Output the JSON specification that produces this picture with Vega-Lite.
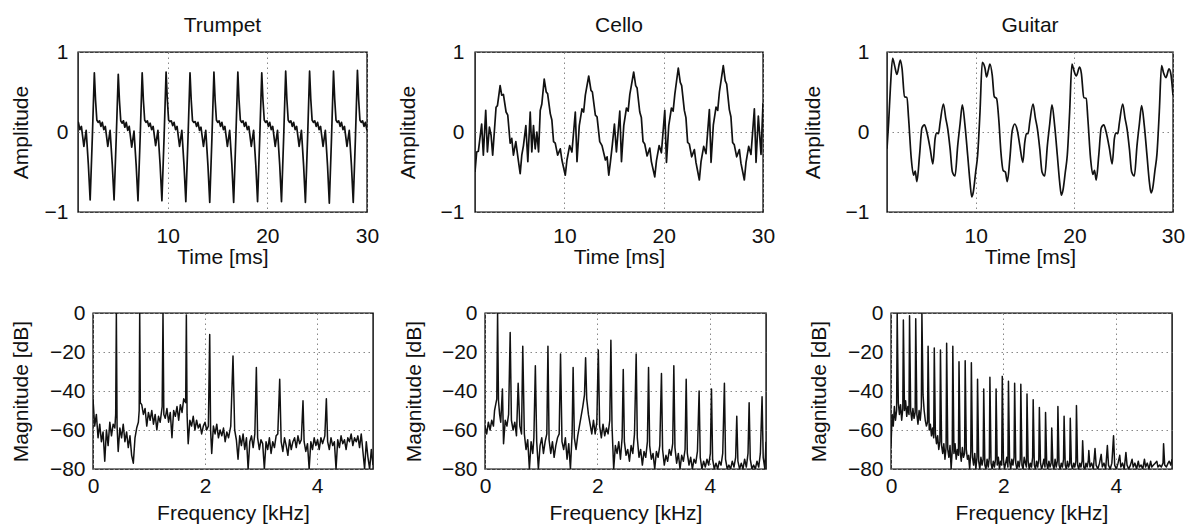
{
"$schema": "https://vega.github.io/schema/vega-lite/v6.json",
"background": "white",
"padding": {"left": 9, "top": 14, "right": 0, "bottom": 0},
"config": {
  "font": "Liberation Sans",
  "view": {"stroke": "#000", "strokeWidth": 1.4},
  "axis": {"grid": true, "gridColor": "#888", "gridDash": [1.5, 3.5], "gridWidth": 1, "domain": false, "ticks": false, "labelFontSize": 21, "titleFontSize": 21, "titleFontWeight": "normal", "labelColor": "#111", "titleColor": "#111", "labelFlush": false, "labelOverlap": false},
  "title": {"fontSize": 21, "fontWeight": "normal", "color": "#111", "offset": 5, "baseline": "alphabetic"}
},
"datasets": {
"tw": [{"x":1.0,"y":0.08},{"x":1.04,"y":0.12},{"x":1.19,"y":0.03},{"x":1.34,"y":0.07},{"x":1.59,"y":-0.18},{"x":1.82,"y":0.02},{"x":2.04,"y":-0.41},{"x":2.22,"y":-0.85},{"x":2.44,"y":-0.06},
{"x":2.64,"y":0.74},{"x":2.76,"y":0.40},{"x":2.89,"y":0.15},{"x":3.02,"y":0.12},{"x":3.16,"y":0.14},{"x":3.3,"y":0.07},{"x":3.44,"y":0.12},{"x":3.59,"y":0.03},{"x":3.74,"y":0.07},{"x":3.99,"y":-0.18},{"x":4.22,"y":0.02},{"x":4.44,"y":-0.41},{"x":4.62,"y":-0.85},{"x":4.84,"y":-0.06},
{"x":5.04,"y":0.72},{"x":5.16,"y":0.39},{"x":5.29,"y":0.14},{"x":5.42,"y":0.11},{"x":5.56,"y":0.14},{"x":5.7,"y":0.06},{"x":5.84,"y":0.12},{"x":5.99,"y":0.02},{"x":6.14,"y":0.07},{"x":6.39,"y":-0.19},{"x":6.62,"y":0.01},{"x":6.84,"y":-0.42},{"x":7.02,"y":-0.86},{"x":7.24,"y":-0.06},
{"x":7.44,"y":0.74},{"x":7.56,"y":0.40},{"x":7.69,"y":0.15},{"x":7.82,"y":0.12},{"x":7.96,"y":0.14},{"x":8.1,"y":0.07},{"x":8.24,"y":0.11},{"x":8.39,"y":0.03},{"x":8.54,"y":0.07},{"x":8.79,"y":-0.17},{"x":9.02,"y":0.02},{"x":9.24,"y":-0.41},{"x":9.42,"y":-0.86},{"x":9.64,"y":-0.06},
{"x":9.84,"y":0.75},{"x":9.96,"y":0.41},{"x":10.09,"y":0.15},{"x":10.22,"y":0.13},{"x":10.36,"y":0.14},{"x":10.5,"y":0.08},{"x":10.64,"y":0.12},{"x":10.79,"y":0.03},{"x":10.94,"y":0.07},{"x":11.19,"y":-0.18},{"x":11.42,"y":0.02},{"x":11.64,"y":-0.42},{"x":11.82,"y":-0.87},{"x":12.04,"y":-0.07},
{"x":12.24,"y":0.74},{"x":12.36,"y":0.40},{"x":12.49,"y":0.14},{"x":12.62,"y":0.12},{"x":12.76,"y":0.13},{"x":12.9,"y":0.07},{"x":13.04,"y":0.12},{"x":13.19,"y":0.02},{"x":13.34,"y":0.06},{"x":13.59,"y":-0.18},{"x":13.82,"y":0.02},{"x":14.04,"y":-0.42},{"x":14.22,"y":-0.88},{"x":14.44,"y":-0.07},
{"x":14.64,"y":0.75},{"x":14.76,"y":0.40},{"x":14.89,"y":0.15},{"x":15.02,"y":0.12},{"x":15.16,"y":0.14},{"x":15.3,"y":0.07},{"x":15.44,"y":0.12},{"x":15.59,"y":0.03},{"x":15.74,"y":0.07},{"x":15.99,"y":-0.18},{"x":16.22,"y":0.02},{"x":16.44,"y":-0.41},{"x":16.62,"y":-0.88},{"x":16.84,"y":-0.06},
{"x":17.04,"y":0.75},{"x":17.16,"y":0.40},{"x":17.29,"y":0.15},{"x":17.42,"y":0.12},{"x":17.56,"y":0.14},{"x":17.7,"y":0.07},{"x":17.84,"y":0.12},{"x":17.99,"y":0.03},{"x":18.14,"y":0.07},{"x":18.39,"y":-0.18},{"x":18.62,"y":0.02},{"x":18.84,"y":-0.41},{"x":19.02,"y":-0.87},{"x":19.24,"y":-0.06},
{"x":19.44,"y":0.74},{"x":19.56,"y":0.40},{"x":19.69,"y":0.15},{"x":19.82,"y":0.12},{"x":19.96,"y":0.14},{"x":20.1,"y":0.07},{"x":20.24,"y":0.12},{"x":20.39,"y":0.03},{"x":20.54,"y":0.07},{"x":20.79,"y":-0.18},{"x":21.02,"y":0.02},{"x":21.24,"y":-0.41},{"x":21.42,"y":-0.87},{"x":21.64,"y":-0.06},
{"x":21.84,"y":0.76},{"x":21.96,"y":0.41},{"x":22.09,"y":0.15},{"x":22.22,"y":0.12},{"x":22.36,"y":0.14},{"x":22.5,"y":0.07},{"x":22.64,"y":0.12},{"x":22.79,"y":0.03},{"x":22.94,"y":0.07},{"x":23.19,"y":-0.18},{"x":23.42,"y":0.02},{"x":23.64,"y":-0.42},{"x":23.82,"y":-0.88},{"x":24.04,"y":-0.07},
{"x":24.24,"y":0.76},{"x":24.36,"y":0.41},{"x":24.49,"y":0.15},{"x":24.62,"y":0.12},{"x":24.76,"y":0.14},{"x":24.9,"y":0.07},{"x":25.04,"y":0.12},{"x":25.19,"y":0.03},{"x":25.34,"y":0.07},{"x":25.59,"y":-0.18},{"x":25.82,"y":0.02},{"x":26.04,"y":-0.42},{"x":26.22,"y":-0.89},{"x":26.44,"y":-0.07},
{"x":26.64,"y":0.76},{"x":26.76,"y":0.41},{"x":26.89,"y":0.15},{"x":27.02,"y":0.12},{"x":27.16,"y":0.14},{"x":27.3,"y":0.07},{"x":27.44,"y":0.12},{"x":27.59,"y":0.03},{"x":27.74,"y":0.07},{"x":27.99,"y":-0.18},{"x":28.22,"y":0.02},{"x":28.44,"y":-0.42},{"x":28.62,"y":-0.88},{"x":28.84,"y":-0.07},
{"x":29.04,"y":0.77},{"x":29.16,"y":0.41},{"x":29.29,"y":0.15},{"x":29.42,"y":0.12},{"x":29.56,"y":0.14},{"x":29.7,"y":0.07},{"x":29.84,"y":0.12},{"x":30.0,"y":0.02}],
"cw": [{"x":1.0,"y":-0.5},{"x":1.17,"y":-0.25},{"x":1.34,"y":-0.24},{"x":1.67,"y":0.1},{"x":1.84,"y":-0.29},{"x":2.08,"y":0.27},{"x":2.25,"y":-0.25},{"x":2.45,"y":0.06},{"x":2.62,"y":-0.04},{"x":2.78,"y":-0.29},{"x":3.12,"y":0.31},{"x":3.26,"y":0.33},{"x":3.53,"y":0.58},{"x":3.69,"y":0.46},{"x":3.86,"y":0.47},{"x":4.13,"y":0.25},{"x":4.3,"y":0.21},{"x":4.54,"y":-0.14},{"x":4.7,"y":-0.08},{"x":4.87,"y":-0.29},{"x":5.11,"y":-0.12},{"x":5.38,"y":-0.37},{"x":5.55,"y":-0.52},{"x":5.71,"y":-0.29},{"x":5.88,"y":-0.17},{"x":6.12,"y":0.08},{"x":6.32,"y":-0.37},{"x":6.56,"y":0.25},{"x":6.72,"y":-0.25},{"x":6.89,"y":0.08},{"x":7.06,"y":-0.21},{"x":7.23,"y":0.0},{"x":7.4,"y":-0.25},{"x":7.57,"y":0.27},{"x":7.73,"y":0.35},
{"x":7.97,"y":0.66},{"x":8.17,"y":0.5},{"x":8.31,"y":0.48},{"x":8.58,"y":0.23},{"x":8.74,"y":0.15},{"x":8.91,"y":-0.12},{"x":9.08,"y":-0.14},{"x":9.32,"y":-0.29},{"x":9.59,"y":-0.21},{"x":9.75,"y":-0.35},{"x":10.09,"y":-0.54},{"x":10.26,"y":-0.35},{"x":10.53,"y":-0.17},{"x":10.76,"y":-0.25},{"x":11.1,"y":0.25},{"x":11.27,"y":-0.37},{"x":11.5,"y":0.08},{"x":11.77,"y":0.29},{"x":11.94,"y":0.25},{"x":12.11,"y":0.46},
{"x":12.45,"y":0.7},{"x":12.68,"y":0.52},{"x":12.82,"y":0.5},{"x":13.12,"y":0.21},{"x":13.29,"y":0.19},{"x":13.56,"y":-0.12},{"x":13.79,"y":-0.17},{"x":14.13,"y":-0.35},{"x":14.3,"y":-0.31},{"x":14.47,"y":-0.54},{"x":14.64,"y":-0.37},{"x":14.82,"y":-0.17},{"x":15.04,"y":0.1},{"x":15.24,"y":-0.25},{"x":15.58,"y":0.26},{"x":15.75,"y":-0.37},{"x":15.98,"y":0.08},{"x":16.25,"y":0.3},{"x":16.42,"y":0.26},{"x":16.59,"y":0.47},
{"x":16.98,"y":0.75},{"x":17.18,"y":0.58},{"x":17.32,"y":0.55},{"x":17.59,"y":0.25},{"x":17.75,"y":0.18},{"x":17.92,"y":-0.12},{"x":18.09,"y":-0.15},{"x":18.33,"y":-0.3},{"x":18.6,"y":-0.2},{"x":18.76,"y":-0.37},{"x":19.1,"y":-0.56},{"x":19.27,"y":-0.36},{"x":19.54,"y":-0.17},{"x":19.77,"y":-0.26},{"x":20.11,"y":0.27},{"x":20.28,"y":-0.38},{"x":20.51,"y":0.08},{"x":20.78,"y":0.3},{"x":20.95,"y":0.26},{"x":21.12,"y":0.47},
{"x":21.47,"y":0.8},{"x":21.67,"y":0.62},{"x":21.81,"y":0.58},{"x":22.08,"y":0.27},{"x":22.24,"y":0.18},{"x":22.41,"y":-0.13},{"x":22.58,"y":-0.15},{"x":22.82,"y":-0.31},{"x":23.09,"y":-0.22},{"x":23.25,"y":-0.38},{"x":23.59,"y":-0.6},{"x":23.76,"y":-0.37},{"x":24.03,"y":-0.18},{"x":24.26,"y":-0.27},{"x":24.6,"y":0.28},{"x":24.77,"y":-0.38},{"x":25.0,"y":0.09},{"x":25.27,"y":0.31},{"x":25.44,"y":0.27},{"x":25.61,"y":0.5},
{"x":26.0,"y":0.83},{"x":26.2,"y":0.64},{"x":26.34,"y":0.6},{"x":26.61,"y":0.28},{"x":26.77,"y":0.19},{"x":26.94,"y":-0.13},{"x":27.11,"y":-0.16},{"x":27.35,"y":-0.31},{"x":27.62,"y":-0.22},{"x":27.78,"y":-0.39},{"x":28.12,"y":-0.6},{"x":28.29,"y":-0.38},{"x":28.56,"y":-0.18},{"x":28.79,"y":-0.28},{"x":29.13,"y":0.29},{"x":29.3,"y":-0.38},{"x":29.53,"y":0.2},{"x":29.8,"y":-0.28},{"x":30.0,"y":0.36}],
"gw": [{"x":1.0,"y":-0.21},{"x":1.17,"y":0.13},{"x":1.34,"y":0.54},{"x":1.57,"y":0.92},{"x":1.77,"y":0.83},{"x":2.01,"y":0.72},{"x":2.35,"y":0.9},{"x":2.52,"y":0.8},{"x":2.78,"y":0.44},{"x":3.02,"y":0.43},{"x":3.19,"y":0.17},{"x":3.46,"y":-0.33},{"x":3.69,"y":-0.54},{"x":3.86,"y":-0.49},{"x":4.03,"y":-0.62},{"x":4.3,"y":-0.29},{"x":4.54,"y":0.05},{"x":4.8,"y":0.09},{"x":5.04,"y":0.0},{"x":5.38,"y":-0.21},{"x":5.65,"y":-0.4},{"x":5.88,"y":-0.08},{"x":6.05,"y":-0.01},{"x":6.22,"y":-0.02},{"x":6.39,"y":0.12},{"x":6.72,"y":0.35},{"x":6.96,"y":0.17},{"x":7.16,"y":0.04},{"x":7.4,"y":-0.21},{"x":7.63,"y":-0.5},{"x":7.9,"y":-0.55},{"x":8.17,"y":-0.17},{"x":8.41,"y":0.1},{"x":8.64,"y":0.34},{"x":8.91,"y":0.08},{"x":9.18,"y":-0.29},{"x":9.42,"y":-0.63},{"x":9.59,"y":-0.81},{"x":9.75,"y":-0.75},{"x":9.99,"y":-0.5},{"x":10.19,"y":-0.29},{"x":10.43,"y":0.25},
{"x":10.66,"y":0.87},{"x":10.93,"y":0.8},{"x":11.1,"y":0.69},{"x":11.27,"y":0.77},{"x":11.44,"y":0.85},{"x":11.67,"y":0.71},{"x":11.88,"y":0.44},{"x":12.11,"y":0.42},{"x":12.35,"y":0.13},{"x":12.55,"y":-0.25},{"x":12.78,"y":-0.48},{"x":13.0,"y":-0.5},{"x":13.2,"y":-0.62},{"x":13.46,"y":-0.33},{"x":13.69,"y":0.01},{"x":13.96,"y":0.1},{"x":14.23,"y":0.01},{"x":14.47,"y":-0.17},{"x":14.77,"y":-0.38},{"x":14.97,"y":-0.13},{"x":15.14,"y":-0.02},{"x":15.31,"y":-0.02},{"x":15.48,"y":0.13},{"x":15.81,"y":0.35},{"x":16.05,"y":0.17},{"x":16.25,"y":0.04},{"x":16.49,"y":-0.21},{"x":16.72,"y":-0.5},{"x":16.99,"y":-0.55},{"x":17.26,"y":-0.17},{"x":17.5,"y":0.1},{"x":17.73,"y":0.34},{"x":18.0,"y":0.08},{"x":18.27,"y":-0.29},{"x":18.51,"y":-0.63},{"x":18.68,"y":-0.79},{"x":18.84,"y":-0.73},{"x":19.08,"y":-0.5},{"x":19.28,"y":-0.29},{"x":19.52,"y":0.25},
{"x":19.75,"y":0.85},{"x":19.95,"y":0.77},{"x":20.19,"y":0.7},{"x":20.53,"y":0.81},{"x":20.7,"y":0.74},{"x":20.96,"y":0.43},{"x":21.2,"y":0.42},{"x":21.37,"y":0.16},{"x":21.64,"y":-0.33},{"x":21.87,"y":-0.53},{"x":22.04,"y":-0.48},{"x":22.21,"y":-0.6},{"x":22.48,"y":-0.28},{"x":22.72,"y":0.05},{"x":22.98,"y":0.09},{"x":23.22,"y":0.0},{"x":23.56,"y":-0.21},{"x":23.83,"y":-0.4},{"x":24.06,"y":-0.08},{"x":24.23,"y":-0.01},{"x":24.4,"y":-0.02},{"x":24.57,"y":0.12},{"x":24.9,"y":0.35},{"x":25.14,"y":0.17},{"x":25.34,"y":0.04},{"x":25.58,"y":-0.21},{"x":25.81,"y":-0.5},{"x":26.08,"y":-0.55},{"x":26.35,"y":-0.17},{"x":26.59,"y":0.1},{"x":26.82,"y":0.33},{"x":27.09,"y":0.08},{"x":27.36,"y":-0.29},{"x":27.6,"y":-0.62},{"x":27.77,"y":-0.76},{"x":27.93,"y":-0.71},{"x":28.17,"y":-0.48},{"x":28.37,"y":-0.28},{"x":28.61,"y":0.25},
{"x":28.84,"y":0.83},{"x":29.04,"y":0.74},{"x":29.28,"y":0.68},{"x":29.6,"y":0.79},{"x":29.79,"y":0.72},{"x":30.0,"y":0.46}],
"ts": [{"x":0,"y":-44},{"x":0.03,"y":-58},{"x":0.06,"y":-52},{"x":0.09,"y":-64},{"x":0.12,"y":-57},{"x":0.15,"y":-66},{"x":0.18,"y":-61},{"x":0.21,"y":-76},{"x":0.24,"y":-60},{"x":0.27,"y":-68},{"x":0.3,"y":-56},{"x":0.33,"y":-63},{"x":0.36,"y":-57},{"x":0.39,"y":-59},{"x":0.405,"y":-52},{"x":0.417,"y":0},{"x":0.43,"y":-58},{"x":0.45,"y":-71},{"x":0.48,"y":-59},{"x":0.51,"y":-64},{"x":0.54,"y":-57},{"x":0.57,"y":-66},{"x":0.6,"y":-61},{"x":0.63,"y":-69},{"x":0.66,"y":-63},{"x":0.69,"y":-73},{"x":0.72,"y":-77},{"x":0.75,"y":-64},{"x":0.78,"y":-59},{"x":0.81,"y":-56},{"x":0.825,"y":-50},{"x":0.834,"y":0},{"x":0.845,"y":-46},{"x":0.87,"y":-47},{"x":0.9,"y":-52},{"x":0.93,"y":-49},{"x":0.96,"y":-58},{"x":0.99,"y":-51},{"x":1.02,"y":-55},{"x":1.05,"y":-50},{"x":1.08,"y":-57},{"x":1.11,"y":-52},{"x":1.14,"y":-60},{"x":1.17,"y":-53},{"x":1.2,"y":-56},{"x":1.235,"y":-48},{"x":1.25,"y":0},{"x":1.265,"y":-52},{"x":1.29,"y":-54},{"x":1.32,"y":-49},{"x":1.35,"y":-56},{"x":1.38,"y":-51},{"x":1.41,"y":-64},{"x":1.44,"y":-50},{"x":1.47,"y":-53},{"x":1.5,"y":-48},{"x":1.53,"y":-55},{"x":1.56,"y":-47},{"x":1.59,"y":-51},{"x":1.62,"y":-44},{"x":1.655,"y":-46},{"x":1.667,"y":-1},{"x":1.68,"y":-52},{"x":1.7,"y":-67},{"x":1.73,"y":-55},{"x":1.76,"y":-58},{"x":1.79,"y":-53},{"x":1.82,"y":-60},{"x":1.85,"y":-55},{"x":1.88,"y":-59},{"x":1.91,"y":-57},{"x":1.94,"y":-62},{"x":1.97,"y":-58},{"x":2.0,"y":-56},{"x":2.03,"y":-60},{"x":2.06,"y":-58},{"x":2.084,"y":-11},{"x":2.1,"y":-60},{"x":2.12,"y":-72},{"x":2.15,"y":-58},{"x":2.18,"y":-62},{"x":2.21,"y":-57},{"x":2.24,"y":-64},{"x":2.27,"y":-60},{"x":2.3,"y":-63},{"x":2.33,"y":-59},{"x":2.36,"y":-66},{"x":2.39,"y":-61},{"x":2.42,"y":-64},{"x":2.46,"y":-58},{"x":2.5,"y":-22},{"x":2.53,"y":-60},{"x":2.56,"y":-65},{"x":2.59,"y":-75},{"x":2.62,"y":-63},{"x":2.65,"y":-68},{"x":2.68,"y":-62},{"x":2.71,"y":-70},{"x":2.74,"y":-64},{"x":2.77,"y":-80},{"x":2.8,"y":-66},{"x":2.83,"y":-63},{"x":2.86,"y":-69},{"x":2.89,"y":-62},{"x":2.917,"y":-28},{"x":2.94,"y":-64},{"x":2.97,"y":-70},{"x":3.0,"y":-65},{"x":3.03,"y":-67},{"x":3.06,"y":-80},{"x":3.09,"y":-66},{"x":3.12,"y":-70},{"x":3.15,"y":-64},{"x":3.18,"y":-72},{"x":3.21,"y":-66},{"x":3.24,"y":-69},{"x":3.27,"y":-63},{"x":3.3,"y":-62},{"x":3.334,"y":-34},{"x":3.36,"y":-66},{"x":3.39,"y":-71},{"x":3.42,"y":-64},{"x":3.45,"y":-68},{"x":3.48,"y":-73},{"x":3.51,"y":-65},{"x":3.54,"y":-70},{"x":3.57,"y":-66},{"x":3.6,"y":-64},{"x":3.63,"y":-69},{"x":3.66,"y":-63},{"x":3.69,"y":-67},{"x":3.72,"y":-65},{"x":3.75,"y":-45},{"x":3.77,"y":-66},{"x":3.8,"y":-71},{"x":3.83,"y":-67},{"x":3.86,"y":-80},{"x":3.89,"y":-66},{"x":3.92,"y":-70},{"x":3.95,"y":-64},{"x":3.98,"y":-68},{"x":4.01,"y":-65},{"x":4.04,"y":-70},{"x":4.07,"y":-64},{"x":4.1,"y":-67},{"x":4.14,"y":-63},{"x":4.167,"y":-44},{"x":4.19,"y":-66},{"x":4.22,"y":-70},{"x":4.25,"y":-64},{"x":4.28,"y":-68},{"x":4.31,"y":-66},{"x":4.34,"y":-80},{"x":4.37,"y":-65},{"x":4.4,"y":-69},{"x":4.43,"y":-63},{"x":4.46,"y":-67},{"x":4.49,"y":-65},{"x":4.52,"y":-70},{"x":4.55,"y":-64},{"x":4.58,"y":-66},{"x":4.61,"y":-62},{"x":4.64,"y":-68},{"x":4.67,"y":-64},{"x":4.7,"y":-66},{"x":4.73,"y":-63},{"x":4.76,"y":-69},{"x":4.79,"y":-62},{"x":4.82,"y":-71},{"x":4.85,"y":-80},{"x":4.88,"y":-66},{"x":4.91,"y":-74},{"x":4.94,"y":-80},{"x":4.97,"y":-70},{"x":5.0,"y":-78}],
"cs": [{"x":0,"y":-58},{"x":0.03,"y":-62},{"x":0.06,"y":-56},{"x":0.09,"y":-60},{"x":0.12,"y":-55},{"x":0.15,"y":-58},{"x":0.17,"y":-50},{"x":0.19,"y":-47},{"x":0.21,"y":-44},{"x":0.224,"y":0},{"x":0.24,"y":-45},{"x":0.26,"y":-52},{"x":0.28,"y":-56},{"x":0.31,"y":-39},{"x":0.33,"y":-67},{"x":0.36,"y":-55},{"x":0.39,"y":-58},{"x":0.42,"y":-52},{"x":0.448,"y":-10},{"x":0.47,"y":-55},{"x":0.5,"y":-60},{"x":0.53,"y":-56},{"x":0.56,"y":-63},{"x":0.59,"y":-36},{"x":0.62,"y":-58},{"x":0.65,"y":-62},{"x":0.672,"y":-17},{"x":0.7,"y":-62},{"x":0.73,"y":-70},{"x":0.76,"y":-65},{"x":0.79,"y":-80},{"x":0.82,"y":-66},{"x":0.85,"y":-72},{"x":0.87,"y":-64},{"x":0.896,"y":-27},{"x":0.92,"y":-66},{"x":0.95,"y":-80},{"x":0.98,"y":-68},{"x":1.01,"y":-64},{"x":1.04,"y":-72},{"x":1.07,"y":-66},{"x":1.1,"y":-62},{"x":1.12,"y":-17},{"x":1.14,"y":-65},{"x":1.17,"y":-72},{"x":1.2,"y":-66},{"x":1.23,"y":-74},{"x":1.26,"y":-68},{"x":1.29,"y":-64},{"x":1.32,"y":-62},{"x":1.344,"y":-21},{"x":1.37,"y":-66},{"x":1.4,"y":-70},{"x":1.43,"y":-64},{"x":1.46,"y":-75},{"x":1.49,"y":-67},{"x":1.52,"y":-80},{"x":1.55,"y":-62},{"x":1.568,"y":-28},{"x":1.59,"y":-64},{"x":1.62,"y":-70},{"x":1.65,"y":-63},{"x":1.68,"y":-58},{"x":1.71,"y":-53},{"x":1.74,"y":-48},{"x":1.77,"y":-42},{"x":1.79,"y":-23},{"x":1.81,"y":-44},{"x":1.84,"y":-52},{"x":1.87,"y":-57},{"x":1.9,"y":-62},{"x":1.93,"y":-55},{"x":1.96,"y":-62},{"x":1.99,"y":-56},{"x":2.016,"y":-19},{"x":2.04,"y":-58},{"x":2.07,"y":-64},{"x":2.1,"y":-57},{"x":2.13,"y":-63},{"x":2.16,"y":-59},{"x":2.19,"y":-62},{"x":2.22,"y":-55},{"x":2.24,"y":-14},{"x":2.26,"y":-58},{"x":2.29,"y":-80},{"x":2.32,"y":-68},{"x":2.35,"y":-72},{"x":2.38,"y":-66},{"x":2.41,"y":-75},{"x":2.44,"y":-64},{"x":2.46,"y":-29},{"x":2.48,"y":-66},{"x":2.51,"y":-73},{"x":2.54,"y":-70},{"x":2.57,"y":-76},{"x":2.6,"y":-68},{"x":2.63,"y":-72},{"x":2.66,"y":-62},{"x":2.69,"y":-21},{"x":2.71,"y":-64},{"x":2.74,"y":-74},{"x":2.77,"y":-70},{"x":2.8,"y":-78},{"x":2.83,"y":-71},{"x":2.86,"y":-74},{"x":2.89,"y":-66},{"x":2.91,"y":-28},{"x":2.93,"y":-68},{"x":2.96,"y":-75},{"x":2.99,"y":-72},{"x":3.02,"y":-80},{"x":3.05,"y":-71},{"x":3.08,"y":-74},{"x":3.11,"y":-68},{"x":3.14,"y":-31},{"x":3.16,"y":-70},{"x":3.19,"y":-78},{"x":3.22,"y":-73},{"x":3.25,"y":-76},{"x":3.28,"y":-70},{"x":3.31,"y":-73},{"x":3.34,"y":-67},{"x":3.36,"y":-27},{"x":3.38,"y":-69},{"x":3.41,"y":-77},{"x":3.44,"y":-72},{"x":3.47,"y":-80},{"x":3.5,"y":-73},{"x":3.53,"y":-76},{"x":3.56,"y":-70},{"x":3.58,"y":-34},{"x":3.6,"y":-72},{"x":3.63,"y":-78},{"x":3.66,"y":-74},{"x":3.69,"y":-80},{"x":3.72,"y":-75},{"x":3.75,"y":-77},{"x":3.78,"y":-71},{"x":3.81,"y":-40},{"x":3.83,"y":-74},{"x":3.86,"y":-80},{"x":3.89,"y":-76},{"x":3.92,"y":-79},{"x":3.95,"y":-75},{"x":3.98,"y":-78},{"x":4.01,"y":-72},{"x":4.03,"y":-39},{"x":4.05,"y":-75},{"x":4.08,"y":-80},{"x":4.11,"y":-77},{"x":4.14,"y":-80},{"x":4.17,"y":-76},{"x":4.2,"y":-78},{"x":4.23,"y":-72},{"x":4.26,"y":-36},{"x":4.28,"y":-75},{"x":4.31,"y":-80},{"x":4.34,"y":-78},{"x":4.37,"y":-80},{"x":4.4,"y":-76},{"x":4.43,"y":-79},{"x":4.46,"y":-74},{"x":4.48,"y":-53},{"x":4.5,"y":-76},{"x":4.53,"y":-80},{"x":4.56,"y":-77},{"x":4.59,"y":-80},{"x":4.62,"y":-75},{"x":4.65,"y":-79},{"x":4.68,"y":-72},{"x":4.7,"y":-46},{"x":4.72,"y":-75},{"x":4.75,"y":-80},{"x":4.78,"y":-78},{"x":4.81,"y":-80},{"x":4.84,"y":-76},{"x":4.87,"y":-79},{"x":4.9,"y":-72},{"x":4.93,"y":-43},{"x":4.95,"y":-74},{"x":4.98,"y":-80},{"x":5.0,"y":-66}],
"gs": [{"x":0,"y":-68},{"x":0.02,"y":-52},{"x":0.04,"y":-58},{"x":0.06,"y":-48},{"x":0.08,"y":-55},{"x":0.1,"y":-50},{"x":0.11,"y":0},{"x":0.13,"y":-46},{"x":0.15,"y":-52},{"x":0.17,"y":-47},{"x":0.19,"y":-55},{"x":0.21,"y":-49},{"x":0.22,"y":-3.6},{"x":0.24,"y":-50},{"x":0.26,"y":-45},{"x":0.28,"y":-53},{"x":0.3,"y":-48},{"x":0.32,"y":-52},{"x":0.33,"y":-1.4},{"x":0.35,"y":-50},{"x":0.37,"y":-55},{"x":0.39,"y":-49},{"x":0.41,"y":-54},{"x":0.43,"y":-51},{"x":0.44,"y":-3},{"x":0.46,"y":-52},{"x":0.48,"y":-57},{"x":0.5,"y":-50},{"x":0.52,"y":-55},{"x":0.54,"y":-48},{"x":0.55,"y":0},{"x":0.57,"y":-42},{"x":0.59,"y":-50},{"x":0.61,"y":-55},{"x":0.63,"y":-58},{"x":0.65,"y":-56},{"x":0.66,"y":-17},{"x":0.68,"y":-60},{"x":0.7,"y":-57},{"x":0.72,"y":-63},{"x":0.74,"y":-59},{"x":0.76,"y":-64},{"x":0.77,"y":-18},{"x":0.79,"y":-62},{"x":0.81,"y":-67},{"x":0.83,"y":-63},{"x":0.85,"y":-70},{"x":0.87,"y":-66},{"x":0.88,"y":-19},{"x":0.9,"y":-68},{"x":0.92,"y":-72},{"x":0.94,"y":-67},{"x":0.96,"y":-75},{"x":0.98,"y":-69},{"x":0.99,"y":-15.5},{"x":1.01,"y":-70},{"x":1.03,"y":-74},{"x":1.05,"y":-68},{"x":1.07,"y":-80},{"x":1.09,"y":-70},{"x":1.1,"y":-17},{"x":1.12,"y":-72},{"x":1.14,"y":-67},{"x":1.16,"y":-75},{"x":1.18,"y":-70},{"x":1.2,"y":-73},{"x":1.21,"y":-25},{"x":1.23,"y":-71},{"x":1.25,"y":-76},{"x":1.27,"y":-69},{"x":1.29,"y":-74},{"x":1.31,"y":-72},{"x":1.32,"y":-24.5},{"x":1.34,"y":-70},{"x":1.36,"y":-75},{"x":1.38,"y":-73},{"x":1.4,"y":-80},{"x":1.42,"y":-71},{"x":1.43,"y":-25.5},{"x":1.45,"y":-74},{"x":1.47,"y":-78},{"x":1.49,"y":-72},{"x":1.51,"y":-80},{"x":1.53,"y":-74},{"x":1.54,"y":-34},{"x":1.56,"y":-76},{"x":1.58,"y":-80},{"x":1.6,"y":-74},{"x":1.62,"y":-78},{"x":1.64,"y":-75},{"x":1.65,"y":-39},{"x":1.67,"y":-78},{"x":1.69,"y":-80},{"x":1.71,"y":-75},{"x":1.73,"y":-79},{"x":1.75,"y":-74},{"x":1.76,"y":-33},{"x":1.78,"y":-77},{"x":1.8,"y":-80},{"x":1.82,"y":-76},{"x":1.84,"y":-79},{"x":1.86,"y":-75},{"x":1.87,"y":-39},{"x":1.89,"y":-78},{"x":1.91,"y":-74},{"x":1.93,"y":-80},{"x":1.95,"y":-76},{"x":1.97,"y":-78},{"x":1.98,"y":-32.5},{"x":2.0,"y":-75},{"x":2.02,"y":-80},{"x":2.04,"y":-77},{"x":2.06,"y":-74},{"x":2.08,"y":-79},{"x":2.09,"y":-35},{"x":2.11,"y":-76},{"x":2.13,"y":-80},{"x":2.15,"y":-75},{"x":2.17,"y":-78},{"x":2.19,"y":-74},{"x":2.2,"y":-36},{"x":2.22,"y":-77},{"x":2.24,"y":-80},{"x":2.26,"y":-76},{"x":2.28,"y":-79},{"x":2.3,"y":-75},{"x":2.31,"y":-36.5},{"x":2.33,"y":-78},{"x":2.35,"y":-80},{"x":2.37,"y":-74},{"x":2.39,"y":-77},{"x":2.41,"y":-79},{"x":2.42,"y":-41.5},{"x":2.44,"y":-76},{"x":2.46,"y":-80},{"x":2.48,"y":-77},{"x":2.5,"y":-79},{"x":2.52,"y":-74},{"x":2.53,"y":-44.5},{"x":2.55,"y":-78},{"x":2.57,"y":-80},{"x":2.59,"y":-76},{"x":2.61,"y":-79},{"x":2.63,"y":-75},{"x":2.64,"y":-48.5},{"x":2.66,"y":-77},{"x":2.68,"y":-80},{"x":2.7,"y":-78},{"x":2.72,"y":-75},{"x":2.74,"y":-79},{"x":2.75,"y":-51},{"x":2.77,"y":-77},{"x":2.79,"y":-80},{"x":2.81,"y":-76},{"x":2.83,"y":-79},{"x":2.85,"y":-77},{"x":2.86,"y":-59},{"x":2.88,"y":-78},{"x":2.9,"y":-80},{"x":2.92,"y":-75},{"x":2.94,"y":-79},{"x":2.96,"y":-76},{"x":2.97,"y":-48},{"x":2.99,"y":-78},{"x":3.01,"y":-80},{"x":3.03,"y":-77},{"x":3.05,"y":-79},{"x":3.07,"y":-75},{"x":3.08,"y":-53},{"x":3.1,"y":-78},{"x":3.12,"y":-80},{"x":3.14,"y":-76},{"x":3.16,"y":-79},{"x":3.18,"y":-77},{"x":3.19,"y":-54},{"x":3.21,"y":-78},{"x":3.23,"y":-80},{"x":3.25,"y":-77},{"x":3.27,"y":-79},{"x":3.29,"y":-76},{"x":3.3,"y":-47.5},{"x":3.32,"y":-78},{"x":3.34,"y":-80},{"x":3.36,"y":-77},{"x":3.38,"y":-79},{"x":3.4,"y":-76},{"x":3.41,"y":-65.5},{"x":3.43,"y":-79},{"x":3.45,"y":-80},{"x":3.47,"y":-77},{"x":3.49,"y":-79},{"x":3.51,"y":-76},{"x":3.52,"y":-70.5},{"x":3.54,"y":-79},{"x":3.57,"y":-77},{"x":3.6,"y":-80},{"x":3.63,"y":-69.5},{"x":3.65,"y":-78},{"x":3.68,"y":-80},{"x":3.71,"y":-77},{"x":3.74,"y":-72.5},{"x":3.76,"y":-79},{"x":3.79,"y":-77},{"x":3.82,"y":-80},{"x":3.85,"y":-68},{"x":3.87,"y":-78},{"x":3.9,"y":-80},{"x":3.93,"y":-77},{"x":3.96,"y":-63},{"x":3.98,"y":-78},{"x":4.01,"y":-80},{"x":4.04,"y":-77},{"x":4.07,"y":-73},{"x":4.09,"y":-79},{"x":4.12,"y":-77},{"x":4.15,"y":-80},{"x":4.18,"y":-71.5},{"x":4.2,"y":-78},{"x":4.23,"y":-80},{"x":4.26,"y":-78},{"x":4.29,"y":-75},{"x":4.31,"y":-79},{"x":4.34,"y":-77},{"x":4.37,"y":-80},{"x":4.4,"y":-76},{"x":4.42,"y":-79},{"x":4.45,"y":-78},{"x":4.48,"y":-80},{"x":4.51,"y":-75},{"x":4.53,"y":-79},{"x":4.56,"y":-77},{"x":4.59,"y":-80},{"x":4.62,"y":-76},{"x":4.64,"y":-79},{"x":4.67,"y":-78},{"x":4.7,"y":-77},{"x":4.73,"y":-76},{"x":4.75,"y":-79},{"x":4.78,"y":-78},{"x":4.81,"y":-79},{"x":4.84,"y":-77},{"x":4.85,"y":-67},{"x":4.87,"y":-78},{"x":4.9,"y":-79},{"x":4.93,"y":-77},{"x":4.95,"y":-76},{"x":4.98,"y":-78},{"x":5.0,"y":-75}]
},
"spacing": 33,
"vconcat": [
{"bounds": "flush", "spacing": 0, "hconcat": [
{"width": 289, "height": 160, "title": "Trumpet", "data": {"name": "tw"},
 "mark": {"type": "line", "color": "#111", "strokeWidth": 1.7, "strokeJoin": "round", "clip": true},
 "encoding": {
  "x": {"field": "x", "type": "quantitative", "scale": {"domain": [1, 30], "nice": false, "zero": false}, "axis": {"values": [10, 20, 30], "title": "Time [ms]", "labelPadding": 13, "titlePadding": 0}},
  "y": {"field": "y", "type": "quantitative", "scale": {"domain": [-1, 1], "nice": false}, "axis": {"values": [-1, 0, 1], "format": "~g", "title": "Amplitude", "labelPadding": 10, "titlePadding": 13}}}},
{"width": 108, "height": 160, "data": {"values": []}, "mark": {"type": "point", "opacity": 0}, "encoding": {}, "view": {"stroke": null}},
{"width": 288, "height": 160, "title": "Cello", "data": {"name": "cw"},
 "mark": {"type": "line", "color": "#111", "strokeWidth": 1.7, "strokeJoin": "round", "clip": true},
 "encoding": {
  "x": {"field": "x", "type": "quantitative", "scale": {"domain": [1, 30], "nice": false, "zero": false}, "axis": {"values": [10, 20, 30], "title": "Time [ms]", "labelPadding": 13, "titlePadding": 0}},
  "y": {"field": "y", "type": "quantitative", "scale": {"domain": [-1, 1], "nice": false}, "axis": {"values": [-1, 0, 1], "format": "~g", "title": "Amplitude", "labelPadding": 11, "titlePadding": 21.5}}}},
{"width": 124, "height": 160, "data": {"values": []}, "mark": {"type": "point", "opacity": 0}, "encoding": {}, "view": {"stroke": null}},
{"width": 286, "height": 160, "title": "Guitar", "data": {"name": "gw"},
 "mark": {"type": "line", "color": "#111", "strokeWidth": 1.7, "strokeJoin": "round", "interpolate": "monotone", "clip": true},
 "encoding": {
  "x": {"field": "x", "type": "quantitative", "scale": {"domain": [1, 30], "nice": false, "zero": false}, "axis": {"values": [10, 20, 30], "title": "Time [ms]", "labelPadding": 13, "titlePadding": 0}},
  "y": {"field": "y", "type": "quantitative", "scale": {"domain": [-1, 1], "nice": false}, "axis": {"values": [-1, 0, 1], "format": "~g", "title": "Amplitude", "labelPadding": 18, "titlePadding": 21.5}}}}
]},
{"bounds": "flush", "spacing": 0, "hconcat": [
{"width": 15, "height": 156, "data": {"values": []}, "mark": {"type": "point", "opacity": 0}, "encoding": {}, "view": {"stroke": null}},
{"width": 280, "height": 156, "data": {"name": "ts"},
 "mark": {"type": "line", "color": "#111", "strokeWidth": 1.5, "strokeJoin": "round", "clip": true},
 "encoding": {
  "x": {"field": "x", "type": "quantitative", "scale": {"domain": [0, 5], "nice": false}, "axis": {"values": [0, 2, 4], "title": "Frequency [kHz]", "labelPadding": 6, "titlePadding": 6.5}},
  "y": {"field": "y", "type": "quantitative", "scale": {"domain": [-80, 0], "nice": false}, "axis": {"values": [-80, -60, -40, -20, 0], "title": "Magnitude [dB]", "labelPadding": 8, "titlePadding": 17.4}}}},
{"width": 112, "height": 156, "data": {"values": []}, "mark": {"type": "point", "opacity": 0}, "encoding": {}, "view": {"stroke": null}},
{"width": 281, "height": 156, "data": {"name": "cs"},
 "mark": {"type": "line", "color": "#111", "strokeWidth": 1.5, "strokeJoin": "round", "clip": true},
 "encoding": {
  "x": {"field": "x", "type": "quantitative", "scale": {"domain": [0, 5], "nice": false}, "axis": {"values": [0, 2, 4], "title": "Frequency [kHz]", "labelPadding": 6, "titlePadding": 6.5}},
  "y": {"field": "y", "type": "quantitative", "scale": {"domain": [-80, 0], "nice": false}, "axis": {"values": [-80, -60, -40, -20, 0], "title": "Magnitude [dB]", "labelPadding": 8, "titlePadding": 17.2}}}},
{"width": 125, "height": 156, "data": {"values": []}, "mark": {"type": "point", "opacity": 0}, "encoding": {}, "view": {"stroke": null}},
{"width": 281, "height": 156, "data": {"name": "gs"},
 "mark": {"type": "line", "color": "#111", "strokeWidth": 1.5, "strokeJoin": "round", "clip": true},
 "encoding": {
  "x": {"field": "x", "type": "quantitative", "scale": {"domain": [0, 5], "nice": false}, "axis": {"values": [0, 2, 4], "title": "Frequency [kHz]", "labelPadding": 6, "titlePadding": 6.5}},
  "y": {"field": "y", "type": "quantitative", "scale": {"domain": [-80, 0], "nice": false}, "axis": {"values": [-80, -60, -40, -20, 0], "title": "Magnitude [dB]", "labelPadding": 8, "titlePadding": 18.2}}}}
]}
]
}
